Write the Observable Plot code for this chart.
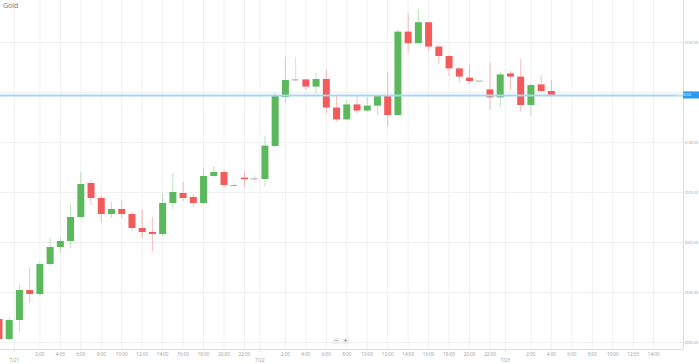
<!DOCTYPE html>
<html><head><meta charset="utf-8">
<script src="https://cdn.jsdelivr.net/npm/d3@7"></script>
<script src="https://cdn.jsdelivr.net/npm/@observablehq/plot@0.6"></script>
<style>
body{margin:0;background:#fff;font-family:"Open Sans",sans-serif;}
#wrap{position:relative;width:699px;height:364px;}
#title{position:absolute;left:3px;top:1px;font-size:7px;color:#777;z-index:2;}
#zoomctl{position:absolute;left:333px;top:338px;font-size:6px;color:#666;display:flex;gap:2px;z-index:2;}
#zoomctl span{background:#eee;width:7px;height:6px;line-height:6px;text-align:center;}
</style></head><body>
<div id="wrap"><div id="title">Gold</div><div id="zoomctl"><span>−</span><span>+</span></div></div>
<script>
const times = [
"2020-07-20T22:00Z","2020-07-20T23:00Z",
"2020-07-21T00:00Z","2020-07-21T01:00Z","2020-07-21T02:00Z","2020-07-21T03:00Z","2020-07-21T04:00Z","2020-07-21T05:00Z",
"2020-07-21T06:00Z","2020-07-21T07:00Z","2020-07-21T08:00Z","2020-07-21T09:00Z","2020-07-21T10:00Z","2020-07-21T11:00Z",
"2020-07-21T12:00Z","2020-07-21T13:00Z","2020-07-21T14:00Z","2020-07-21T15:00Z","2020-07-21T16:00Z","2020-07-21T17:00Z",
"2020-07-21T18:00Z","2020-07-21T19:00Z","2020-07-21T20:00Z","2020-07-21T21:00Z","2020-07-21T22:00Z","2020-07-21T23:00Z",
"2020-07-22T00:00Z","2020-07-22T01:00Z","2020-07-22T02:00Z","2020-07-22T03:00Z","2020-07-22T04:00Z","2020-07-22T05:00Z",
"2020-07-22T06:00Z","2020-07-22T07:00Z","2020-07-22T08:00Z","2020-07-22T09:00Z","2020-07-22T10:00Z","2020-07-22T11:00Z",
"2020-07-22T12:00Z","2020-07-22T13:00Z","2020-07-22T14:00Z","2020-07-22T15:00Z","2020-07-22T16:00Z","2020-07-22T17:00Z",
"2020-07-22T18:00Z","2020-07-22T19:00Z","2020-07-22T20:00Z","2020-07-22T21:00Z","2020-07-22T22:00Z","2020-07-22T23:00Z",
"2020-07-23T00:00Z","2020-07-23T01:00Z","2020-07-23T02:00Z","2020-07-23T03:00Z","2020-07-23T04:00Z"];
const open = [2011.5,2001.5,
2011,2026,2024,2039,2047.5,2050.5,2062.5,2079.5,2072,2064,2066.5,2064,2057,2055,2054,2069.5,2074.5,2072.5,2069.5,2083,2085,2078.5,2082.2,2081.8,
2081.5,2098,2122.5,2131.3,2131.3,2127.7,2131.5,2117.2,2111.3,2118.8,2115.7,2118.2,2123.5,2113.5,2155.2,2149.4,2159.9,2147.7,2143,2136.8,2132.2,2130.7,2126.3,2122.3,
2134.3,2132.7,2118.5,2128.8,2125.5];
const high = [2013,2012.5,
2028.5,2037,2040,2052,2052.5,2069,2085,2081,2073.5,2070,2071,2065,2066.5,2062.5,2074.5,2084.5,2080,2074,2087,2088,2086,2079.5,2085.5,2083.5,
2103,2124.6,2142.7,2142.3,2131.5,2134.7,2136,2123.5,2121,2123,2122.5,2123.5,2135,2156.4,2164.4,2166.4,2159.9,2148.5,2143.5,2137.7,2138.5,2130.7,2139.7,2135.2,
2135.5,2141.8,2129.3,2133.5,2131];
const low = [2000.5,2000.5,
2005,2019.5,2023,2038,2044.5,2047,2062,2068.5,2060,2062,2062,2055.5,2052,2045.5,2053,2066.5,2070.5,2067.5,2069,2082.5,2077.5,2078,2077.7,2080.2,
2077.7,2097.5,2119.7,2130.2,2126,2124.3,2114.3,2110.2,2111,2114.3,2115,2113.5,2107.7,2113,2144.7,2149.4,2145.2,2139,2133,2129.7,2129,2130.7,2116.3,2117.3,
2126,2115.2,2113,2125,2122.7];
const close = [2001.5,2011,
2026,2024,2039,2047.5,2050.5,2062.5,2079,2072,2064,2066.5,2064,2057,2055,2054,2069.5,2075,2072,2069.5,2083,2085,2078.5,2078.5,2081.4,2081.8,
2098.2,2123,2131,2131.3,2127.7,2131.5,2117.2,2111.3,2118.8,2115.7,2118.2,2123,2113.5,2155.2,2149.4,2159.9,2147.7,2143,2136.8,2132.7,2130.5,2130.7,2122.3,2133.8,
2132.7,2118.5,2128.5,2125.5,2123.5];

const yTicks = [2000,2025,2050,2075,2100,2125,2150];
const days = ["2020-07-21","2020-07-22","2020-07-23"];
const dayLabels = ["7/21","7/22","7/23"];
const hourTicks = [2,4,6,8,10,12,14,16,18,20,22];
const lastTickTime = "2020-07-23T14:00Z";
const xDomain = [new Date("2020-07-20T22:09Z"), new Date("2020-07-23T16:55Z")];
const yDomain = [1996.5, 2171];

const upColor = "#5cb85c", downColor = "#f35b5b", flatColor = "#a9a9a9";
const gridColor = "#f0f0f0", axisColor = "#dcdcdc", textColor = "#9a9a9a";

const candles = times.map((t, i) => ({t: new Date(t), open: open[i], high: high[i], low: low[i], close: close[i]}));
const ups = candles.filter(d => d.close > d.open);
const downs = candles.filter(d => d.close < d.open);
const flats = candles.filter(d => d.close === d.open);
const half = 20 * 60 * 1000;

const xTicks = days.flatMap(day => hourTicks.map(h => new Date(`${day}T${String(h).padStart(2, "0")}:00Z`)))
  .filter(d => d <= new Date(lastTickTime));
const dayTicks = days.map(day => new Date(+new Date(day + "T00:00Z") - 30 * 60 * 1000));
const dayLabelMap = new Map(dayTicks.map((d, i) => [+d, dayLabels[i]]));
const last = close[close.length - 1];

const plot = Plot.plot({
  width: 699, height: 364,
  marginLeft: 0, marginRight: 16, marginTop: 0, marginBottom: 15,
  style: {fontFamily: "Open Sans, sans-serif", fontSize: "5px", background: "transparent", overflow: "visible"},
  x: {type: "utc", domain: xDomain},
  y: {domain: yDomain},
  marks: [
    Plot.gridY(yTicks, {stroke: gridColor, strokeOpacity: 1}),
    Plot.gridX([...xTicks, ...dayTicks], {stroke: gridColor, strokeOpacity: 1}),
    Plot.ruleY([yDomain[0]], {stroke: axisColor}),
    Plot.ruleX([xDomain[1]], {stroke: axisColor}),
    Plot.ruleX(ups, {x: "t", y1: "low", y2: "high", stroke: upColor, strokeOpacity: 0.4}),
    Plot.ruleX(downs, {x: "t", y1: "low", y2: "high", stroke: downColor, strokeOpacity: 0.4}),
    Plot.ruleX(flats, {x: "t", y1: "low", y2: "high", stroke: flatColor, strokeOpacity: 0.4}),
    Plot.ruleX(ups, {x: "t", y1: "open", y2: "close", stroke: upColor, strokeWidth: 7}),
    Plot.ruleX(downs, {x: "t", y1: "open", y2: "close", stroke: downColor, strokeWidth: 7}),
    Plot.ruleY(flats, {y: "close", x1: d => new Date(+d.t - half), x2: d => new Date(+d.t + half), stroke: flatColor}),
    Plot.ruleY([last], {stroke: "#a8d5f5", strokeWidth: 2}),
    Plot.axisY(yTicks, {anchor: "right", tickFormat: d3.format(".2f"), tickSize: 0, tickPadding: 1, fontSize: 3.7, fill: textColor, label: null}),
    Plot.axisX(xTicks, {tickFormat: d => `${d.getUTCHours()}:00`, tickSize: 0, tickPadding: 3, fontSize: 4.6, fill: textColor, label: null}),
    Plot.axisX(dayTicks, {tickFormat: d => dayLabelMap.get(+d), tickSize: 3, tickPadding: 6, fontSize: 4.6, fill: textColor, stroke: axisColor, label: null})
  ]
});

document.getElementById("wrap").appendChild(plot);
plot.style.position = "absolute"; plot.style.left = "0"; plot.style.top = "0";

const yS = plot.scale("y"), xS = plot.scale("x");
const yy = yS.apply(last), xr = xS.range[1];
const g = d3.select(plot).append("g");
g.append("rect").attr("x", xr).attr("y", yy - 3.5).attr("width", 699 - xr).attr("height", 7).attr("fill", "#2b9af3");
g.append("text").attr("x", xr + 1).attr("y", yy).attr("dy", "0.35em").attr("font-size", 3.7).attr("fill", "#fff").text(d3.format(".2f")(last));
</script>
</body></html>
